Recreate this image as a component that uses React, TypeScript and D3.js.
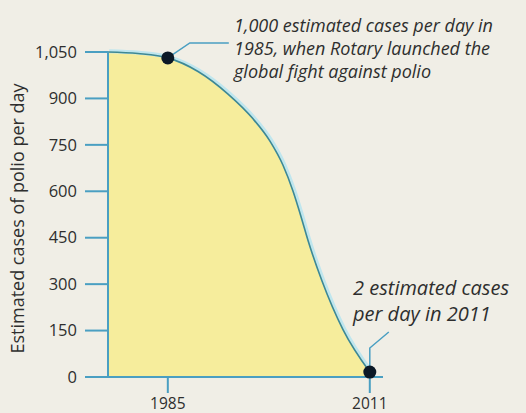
import React from "react";
import * as d3 from "d3";

const years = [1977.3, 1981.16, 1985, 1988.89, 1992.75, 1995.97, 1998.15, 1999.83, 2001.12, 2002.15, 2003.05, 2004.85, 2007.55, 2011];
const cases = [1050, 1045, 1031, 987, 914, 834, 762, 684, 600, 518, 441, 310, 153, 16];
const yTicks = [0, 150, 300, 450, 600, 750, 900, 1050];
const xTicks = [1985, 2011];
const highlighted = [
  { year: 1985, value: 1031 },
  { year: 2011, value: 16 },
];
const yLabel = "Estimated cases of polio per day";
const note1 = ["1,000 estimated cases per day in", "1985, when Rotary launched the", "global fight against polio"];
const note2 = ["2 estimated cases", "per day in 2011"];

const W = 526;
const H = 413;
const BG = "#f0eee6";
const AXIS = "#4a9fc2";
const FILL = "#f6ed9c";
const TEXT = "#2e2e2e";
const FONT = "'Open Sans', 'DejaVu Sans', sans-serif";

export default function App() {
  const x = d3.scaleLinear().domain([1977.3, 2012.7]).range([108, 383]);
  const y = d3.scaleLinear().domain([0, 1050]).range([377, 52]);
  const data = years.map((yr, i) => ({ yr, v: cases[i] }));

  const area = d3
    .area<{ yr: number; v: number }>()
    .x((d) => x(d.yr))
    .y0(y(0))
    .y1((d) => y(d.v))
    .curve(d3.curveMonotoneX)(data) as string;
  const line = d3
    .line<{ yr: number; v: number }>()
    .x((d) => x(d.yr))
    .y((d) => y(d.v))
    .curve(d3.curveMonotoneX)(data) as string;

  const p1 = { x: x(highlighted[0].year), y: y(highlighted[0].value) };
  const p2 = { x: x(highlighted[1].year), y: y(highlighted[1].value) };

  return (
    <div style={{ position: "fixed", left: 0, top: 0, width: W, height: H }}>
      <svg width={W} height={H} style={{ display: "block" }}>
        <rect x={0} y={0} width={W} height={H} fill={BG} />
        <path d={area} fill={FILL} />
        <path d={line} fill="none" stroke="#bfe6ee" strokeWidth={4} transform="translate(1.2,-0.8)" />
        <path d={line} fill="none" stroke="#3f8892" strokeWidth={1.6} />

        {/* y axis */}
        <line x1={x.range()[0]} x2={x.range()[0]} y1={y(1050)} y2={y(0)} stroke={AXIS} strokeWidth={2} />
        {yTicks.map((t) => (
          <g key={t}>
            <line x1={85} x2={x.range()[0]} y1={y(t)} y2={y(t)} stroke={AXIS} strokeWidth={2} />
            <text x={77} y={y(t)} dy="0.35em" textAnchor="end" fontFamily={FONT} fontSize={16.5} fill={TEXT}>
              {d3.format(",")(t)}
            </text>
          </g>
        ))}
        {/* x axis */}
        <line x1={85} x2={x.range()[1]} y1={y(0)} y2={y(0)} stroke={AXIS} strokeWidth={2} />
        {xTicks.map((t) => (
          <g key={t}>
            <line x1={x(t)} x2={x(t)} y1={y(0)} y2={393} stroke={AXIS} strokeWidth={2} />
            <text x={x(t)} y={408.5} textAnchor="middle" fontFamily={FONT} fontSize={15.5} fill={TEXT}>
              {t}
            </text>
          </g>
        ))}

        <text
          transform={`translate(24,${(y(1050) + y(0)) / 2 + 4}) rotate(-90)`}
          textAnchor="middle"
          fontFamily={FONT}
          fontSize={18}
          fill={TEXT}
        >
          {yLabel}
        </text>

        {/* leaders */}
        <polyline
          points={`${p1.x},${p1.y} ${p1.x + 22},${p1.y - 15} ${p1.x + 61},${p1.y - 15}`}
          fill="none"
          stroke={AXIS}
          strokeWidth={1.5}
        />
        <polyline
          points={`${p2.x},${p2.y} ${p2.x},${p2.y - 24} ${p2.x + 19},${p2.y - 40}`}
          fill="none"
          stroke={AXIS}
          strokeWidth={1.5}
        />

        {highlighted.map((h) => (
          <circle key={h.year} cx={x(h.year)} cy={y(h.value)} r={6.5} fill="#0b1826" />
        ))}

        {note1.map((s, i) => (
          <text key={s} x={234} y={32 + i * 23} fontFamily={FONT} fontStyle="italic" fontSize={18} fill={TEXT}>
            {s}
          </text>
        ))}
        {note2.map((s, i) => (
          <text key={s} x={353} y={295 + i * 26} fontFamily={FONT} fontStyle="italic" fontSize={20} fill={TEXT}>
            {s}
          </text>
        ))}
      </svg>
    </div>
  );
}
